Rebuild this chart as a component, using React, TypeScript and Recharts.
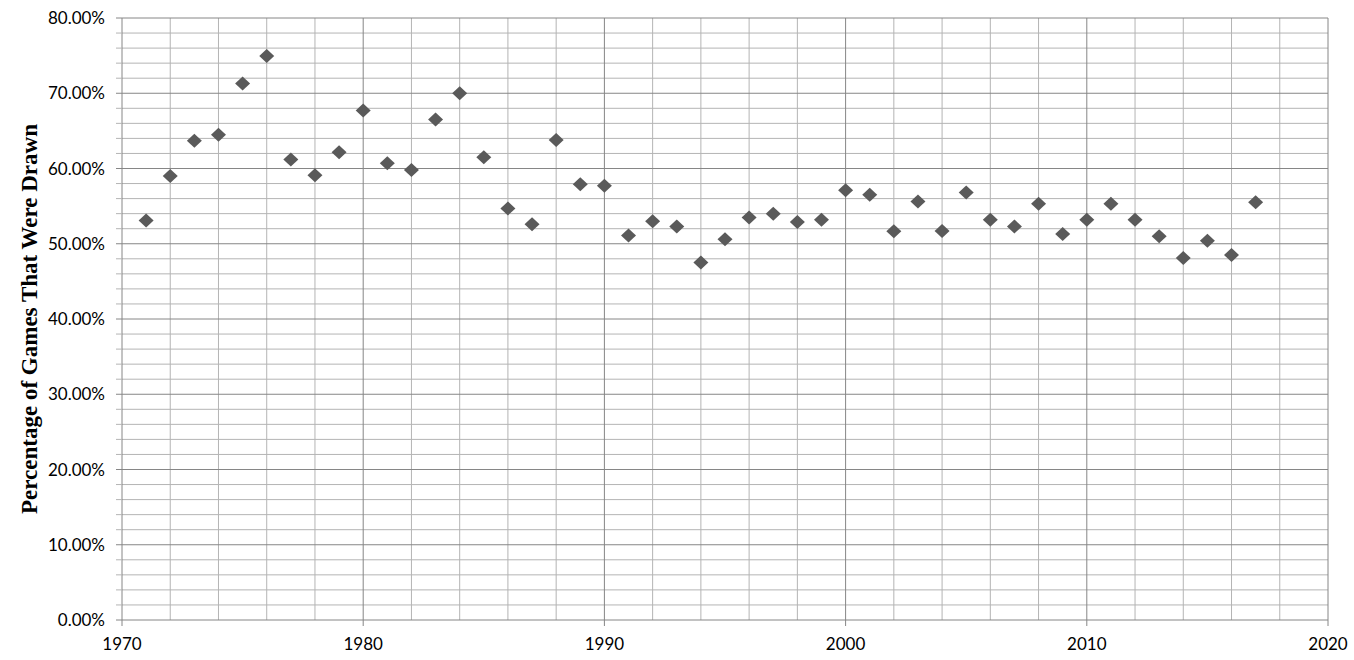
import React from 'react';
import { ScatterChart, Scatter, XAxis, YAxis, ReferenceLine } from 'recharts';

const years = [
  1971, 1972, 1973, 1974, 1975, 1976, 1977, 1978, 1979, 1980,
  1981, 1982, 1983, 1984, 1985, 1986, 1987, 1988, 1989, 1990,
  1991, 1992, 1993, 1994, 1995, 1996, 1997, 1998, 1999, 2000,
  2001, 2002, 2003, 2004, 2005, 2006, 2007, 2008, 2009, 2010,
  2011, 2012, 2013, 2014, 2015, 2016, 2017,
];

const drawPct = [
  53.1, 59.0, 63.7, 64.5, 71.3, 74.95, 61.2, 59.1, 62.15, 67.7,
  60.7, 59.8, 66.5, 70.0, 61.5, 54.7, 52.6, 63.8, 57.9, 57.7,
  51.1, 53.0, 52.3, 47.5, 50.6, 53.5, 54.0, 52.9, 53.2, 57.1,
  56.5, 51.65, 55.6, 51.7, 56.8, 53.2, 52.3, 55.3, 51.3, 53.2,
  55.3, 53.2, 51.0, 48.1, 50.4, 48.5, 55.5,
];

const decadeTicks = [1970, 1980, 1990, 2000, 2010, 2020];
const minorYears = [
  1972, 1974, 1976, 1978, 1982, 1984, 1986, 1988, 1992, 1994, 1996, 1998,
  2002, 2004, 2006, 2008, 2012, 2014, 2016, 2018,
];
const majorYears = [1980, 1990, 2000, 2010, 2020];
const pctTicks = [
  0, 2, 4, 6, 8, 10, 12, 14, 16, 18, 20, 22, 24, 26, 28, 30, 32, 34, 36, 38, 40,
  42, 44, 46, 48, 50, 52, 54, 56, 58, 60, 62, 64, 66, 68, 70, 72, 74, 76, 78, 80,
];
const majorPct = [10, 20, 30, 40, 50, 60, 70, 80];
const minorPct = pctTicks.filter((v) => v % 10 !== 0);

const yLabel = 'Percentage of Games That Were Drawn';

const data = years.map((year, i) => ({ year, pct: drawPct[i] }));

const MINOR = '#b4b4b4';
const MAJOR = '#868686';
const TEXT_FONT = 'Lato, "Open Sans", sans-serif';

const Diamond = (props: any) => {
  const { cx, cy } = props;
  if (cx == null || cy == null) return null;
  const w = 7.5;
  const h = 7;
  return (
    <polygon
      points={`${cx},${cy - h} ${cx + w},${cy} ${cx},${cy + h} ${cx - w},${cy}`}
      fill="#5a5a5a"
    />
  );
};

const Y_TICK_SIZE = 6;
const Y_TICK_MARGIN = 11;

const YTick = (props: any) => {
  const { x, y, payload } = props;
  const v = payload.value;
  const major = Math.round(v) % 10 === 0;
  const lx1 = x + Y_TICK_MARGIN;
  const lx2 = lx1 + Y_TICK_SIZE;
  return (
    <g>
      <line x1={lx1} x2={lx2} y1={y} y2={y} stroke={major ? MAJOR : MINOR} strokeWidth={1} />
      {major && (
        <text
          x={x}
          y={y}
          dy="0.36em"
          textAnchor="end"
          fill="#000"
          fontSize={17}
          fontFamily={TEXT_FONT}
        >
          {`${v.toFixed(2)}%`}
        </text>
      )}
    </g>
  );
};

const YAxisLabel = (props: any) => {
  const vb = props.viewBox || {};
  const cy = (vb.y ?? 18) + (vb.height ?? 602) / 2;
  const x = 37;
  return (
    <text
      x={x}
      y={cy}
      transform={`rotate(-90, ${x}, ${cy})`}
      textAnchor="middle"
      fontFamily='"Liberation Serif", "Times New Roman", serif'
      fontWeight="bold"
      fontSize={23}
      fill="#000"
    >
      {yLabel}
    </text>
  );
};

export default function App() {
  return (
    <div style={{ position: 'absolute', left: 0, top: 0, width: 1354, height: 660, background: '#fff' }}>
      <ScatterChart
        width={1354}
        height={660}
        margin={{ top: 18, right: 26, left: 0, bottom: 0 }}
      >
        <XAxis
          type="number"
          dataKey="year"
          domain={[1970, 2020]}
          ticks={decadeTicks}
          interval={0}
          height={40}
          tickSize={6}
          tickMargin={12}
          axisLine={{ stroke: MAJOR }}
          tickLine={{ stroke: MAJOR }}
          tick={{ fill: '#000', fontSize: 17, fontFamily: TEXT_FONT }}
        />
        <YAxis
          type="number"
          dataKey="pct"
          domain={[0, 80]}
          ticks={pctTicks}
          interval={0}
          width={122}
          tickSize={Y_TICK_SIZE}
          tickMargin={Y_TICK_MARGIN}
          axisLine={{ stroke: MAJOR }}
          tickLine={false}
          tick={<YTick />}
          label={<YAxisLabel />}
        />
        {minorYears.map((yr) => (
          <ReferenceLine key={`vx${yr}`} x={yr} stroke={MINOR} strokeWidth={1} />
        ))}
        {minorPct.map((p) => (
          <ReferenceLine key={`hy${p}`} y={p} stroke={MINOR} strokeWidth={1} />
        ))}
        {majorYears.map((yr) => (
          <ReferenceLine key={`Vx${yr}`} x={yr} stroke={MAJOR} strokeWidth={1} />
        ))}
        {majorPct.map((p) => (
          <ReferenceLine key={`Hy${p}`} y={p} stroke={MAJOR} strokeWidth={1} />
        ))}
        <Scatter data={data} shape={<Diamond />} isAnimationActive={false} />
      </ScatterChart>
    </div>
  );
}
